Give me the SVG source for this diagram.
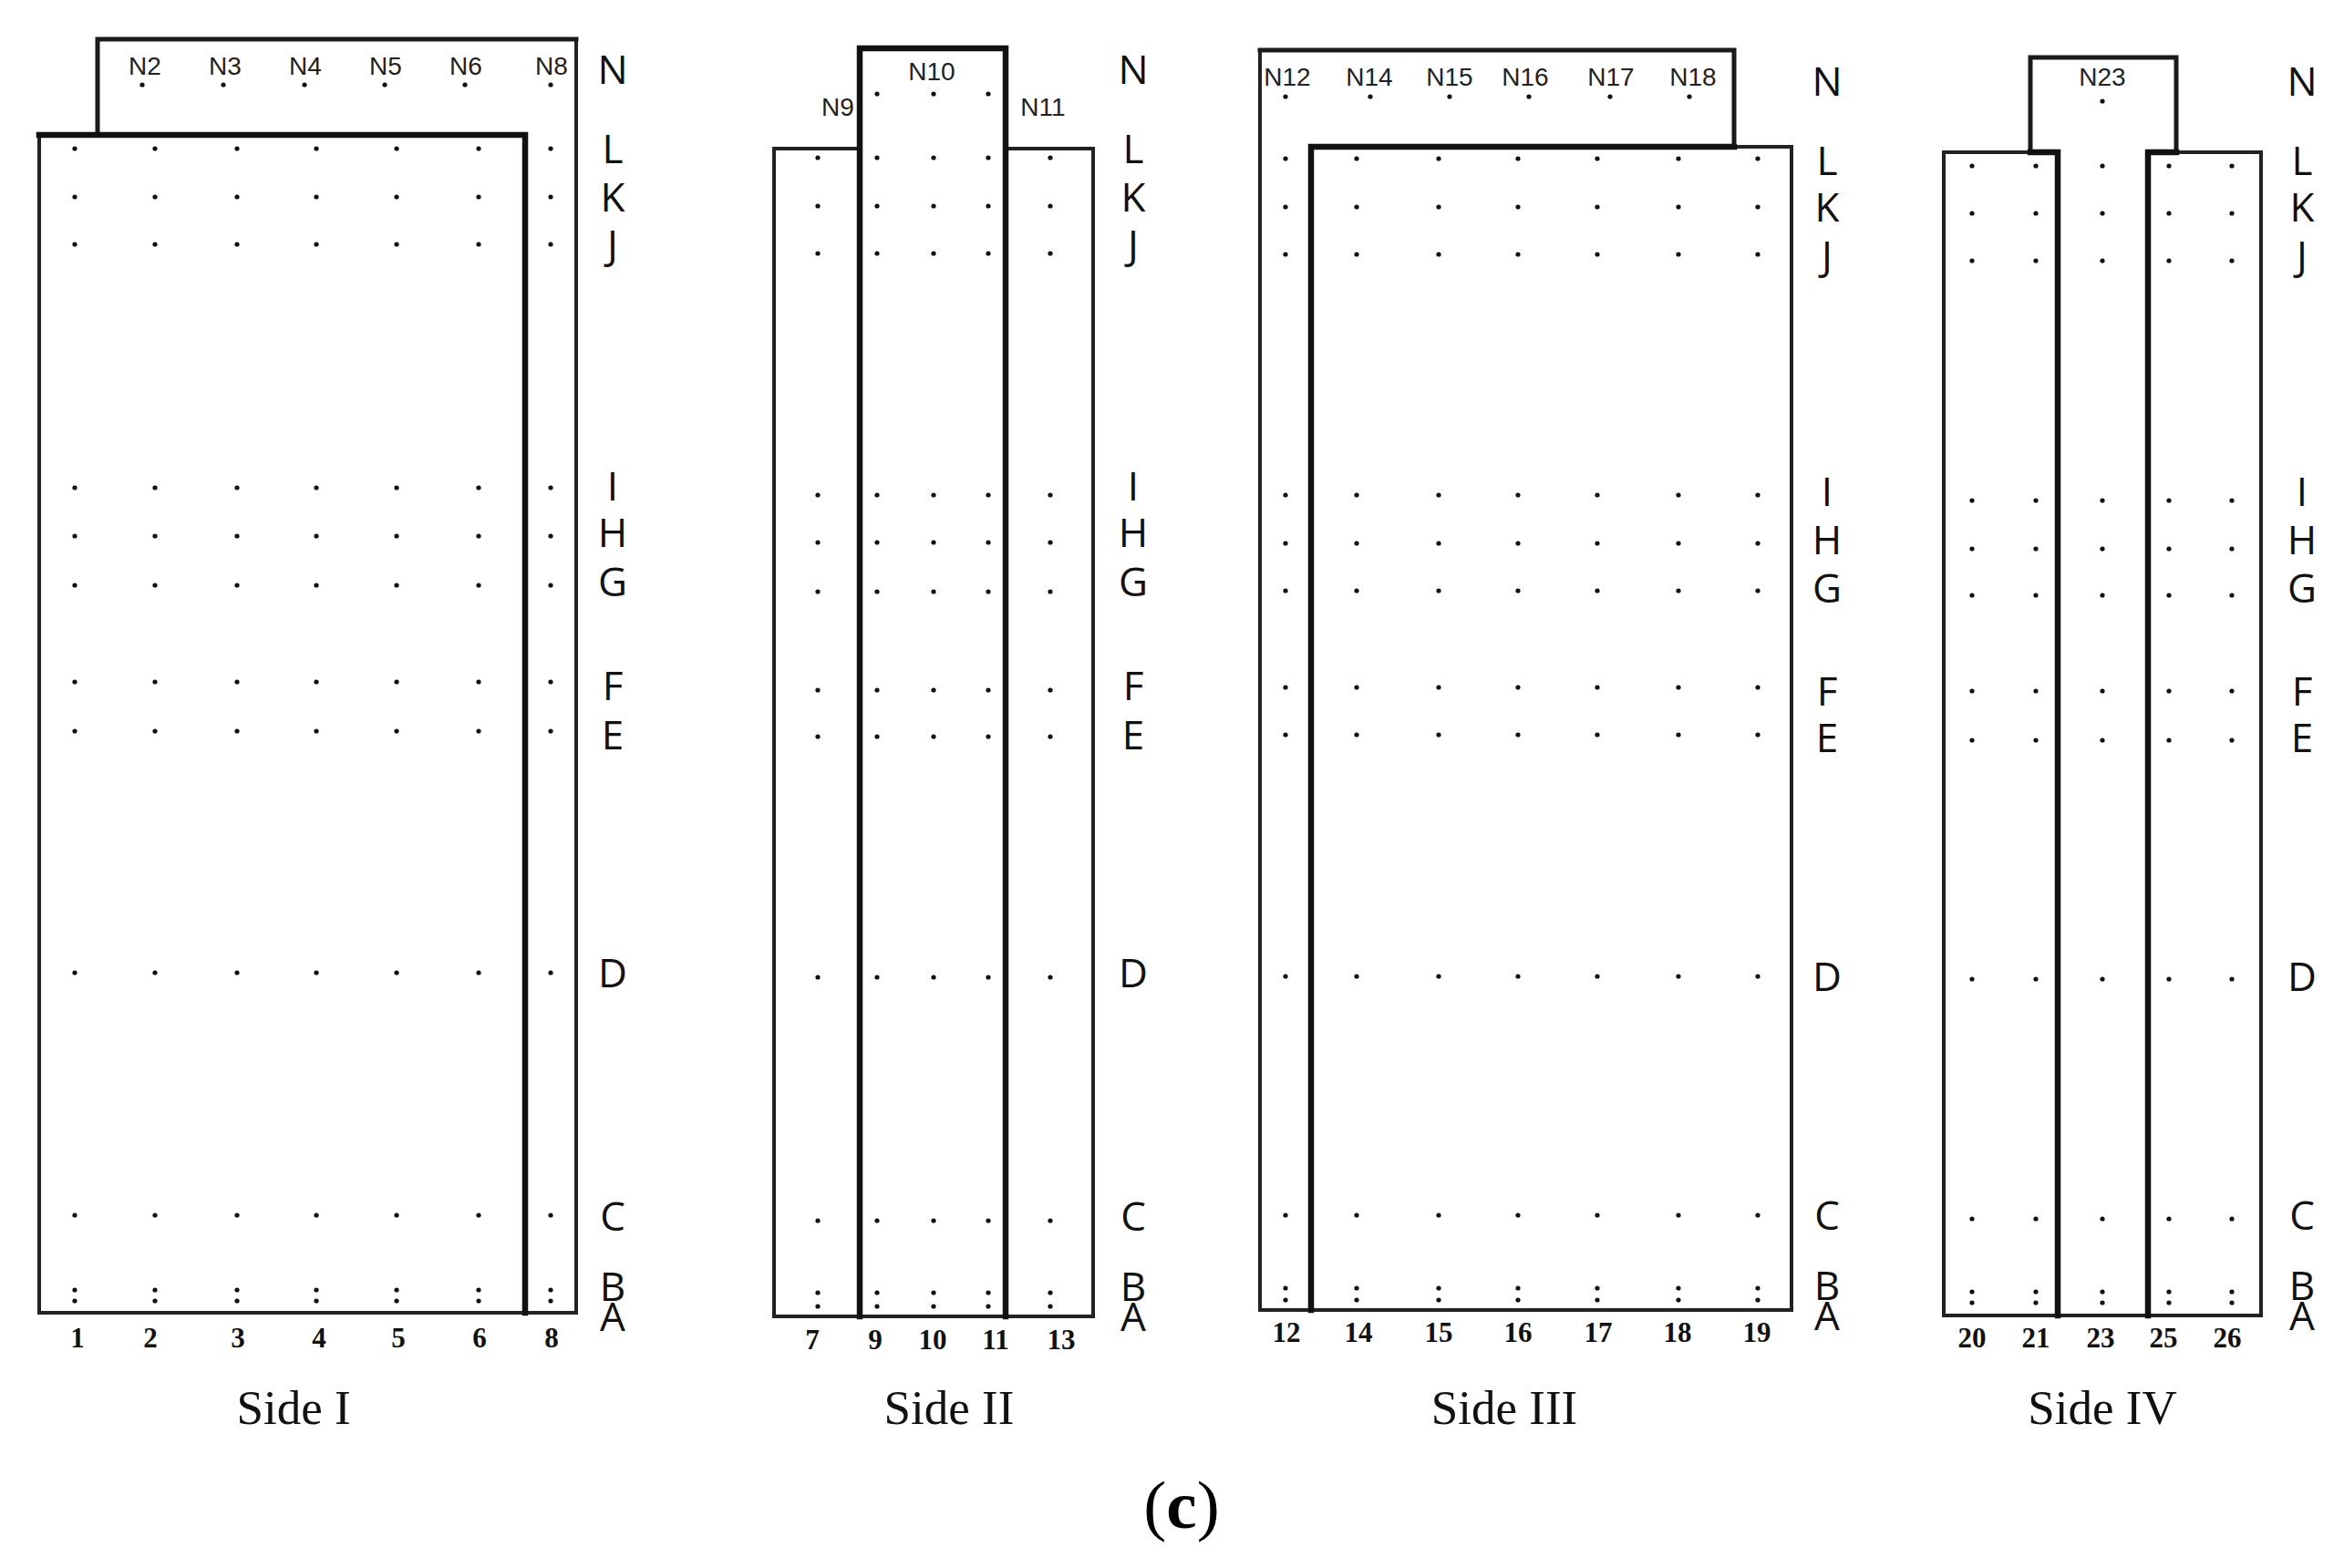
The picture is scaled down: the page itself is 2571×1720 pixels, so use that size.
<svg xmlns="http://www.w3.org/2000/svg" xmlns:xlink="http://www.w3.org/1999/xlink" width="2571" height="1720" viewBox="0 0 2571 1720">
<style>
.thin{fill:none;stroke:#222;stroke-width:4;stroke-linejoin:miter;stroke-linecap:square}
.mid{fill:none;stroke:#1a1a1a;stroke-width:5;stroke-linejoin:miter;stroke-linecap:square}
.thick{fill:none;stroke:#111;stroke-width:6.5;stroke-linejoin:miter;stroke-linecap:square}
.dot{fill:#111}
.nl{font-family:"Liberation Sans",Arial,sans-serif;font-size:28px;fill:#222;text-anchor:middle}
.rl{font-family:"Open Sans","Liberation Sans",sans-serif;font-size:44px;fill:#111;text-anchor:middle}
.num{font-family:"Liberation Serif","Times New Roman",serif;font-size:31px;font-weight:bold;fill:#111;text-anchor:middle}
.side{font-family:"Liberation Serif","Times New Roman",serif;font-size:53px;fill:#111;text-anchor:middle}
.cap{font-family:"Liberation Serif","Times New Roman",serif;font-size:75px;fill:#000;text-anchor:middle}
</style>
<defs>
<g id="col1"><circle class="dot" cx="0" cy="163" r="2.6"/><circle class="dot" cx="0" cy="216" r="2.6"/><circle class="dot" cx="0" cy="268" r="2.6"/><circle class="dot" cx="0" cy="535" r="2.6"/><circle class="dot" cx="0" cy="588" r="2.6"/><circle class="dot" cx="0" cy="642" r="2.6"/><circle class="dot" cx="0" cy="748" r="2.6"/><circle class="dot" cx="0" cy="802" r="2.6"/><circle class="dot" cx="0" cy="1067" r="2.6"/><circle class="dot" cx="0" cy="1333" r="2.6"/><circle class="dot" cx="0" cy="1415" r="2.6"/><circle class="dot" cx="0" cy="1427" r="2.6"/></g>
<g id="col2"><circle class="dot" cx="0" cy="173" r="2.6"/><circle class="dot" cx="0" cy="226" r="2.6"/><circle class="dot" cx="0" cy="278" r="2.6"/><circle class="dot" cx="0" cy="543" r="2.6"/><circle class="dot" cx="0" cy="595" r="2.6"/><circle class="dot" cx="0" cy="649" r="2.6"/><circle class="dot" cx="0" cy="757" r="2.6"/><circle class="dot" cx="0" cy="808" r="2.6"/><circle class="dot" cx="0" cy="1072" r="2.6"/><circle class="dot" cx="0" cy="1339" r="2.6"/><circle class="dot" cx="0" cy="1418" r="2.6"/><circle class="dot" cx="0" cy="1433" r="2.6"/></g>
<g id="col3"><circle class="dot" cx="0" cy="174" r="2.6"/><circle class="dot" cx="0" cy="227" r="2.6"/><circle class="dot" cx="0" cy="279" r="2.6"/><circle class="dot" cx="0" cy="543" r="2.6"/><circle class="dot" cx="0" cy="596" r="2.6"/><circle class="dot" cx="0" cy="648" r="2.6"/><circle class="dot" cx="0" cy="754" r="2.6"/><circle class="dot" cx="0" cy="806" r="2.6"/><circle class="dot" cx="0" cy="1071" r="2.6"/><circle class="dot" cx="0" cy="1333" r="2.6"/><circle class="dot" cx="0" cy="1413" r="2.6"/><circle class="dot" cx="0" cy="1426" r="2.6"/></g>
<g id="col4"><circle class="dot" cx="0" cy="182" r="2.6"/><circle class="dot" cx="0" cy="234" r="2.6"/><circle class="dot" cx="0" cy="286" r="2.6"/><circle class="dot" cx="0" cy="549" r="2.6"/><circle class="dot" cx="0" cy="602" r="2.6"/><circle class="dot" cx="0" cy="653" r="2.6"/><circle class="dot" cx="0" cy="758" r="2.6"/><circle class="dot" cx="0" cy="812" r="2.6"/><circle class="dot" cx="0" cy="1074" r="2.6"/><circle class="dot" cx="0" cy="1337" r="2.6"/><circle class="dot" cx="0" cy="1417" r="2.6"/><circle class="dot" cx="0" cy="1429" r="2.6"/></g>
</defs>
<rect width="2571" height="1720" fill="#fff"/>

<g id="side-I">
<g id="side-I-outline">
<path class="thin" d="M43,148 V1440 H632 V43"/>
<path class="mid" d="M107,148 V43 H632"/>
<path class="thick" d="M43,148 H576 V1440"/>
</g>
<g id="side-I-dots">
<use href="#col1" x="82"/><use href="#col1" x="170"/><use href="#col1" x="260"/><use href="#col1" x="347"/><use href="#col1" x="435"/><use href="#col1" x="525"/><use href="#col1" x="604"/>
<circle class="dot" cx="156" cy="93" r="2.6"/><circle class="dot" cx="245" cy="93" r="2.6"/><circle class="dot" cx="334" cy="93" r="2.6"/><circle class="dot" cx="422" cy="93" r="2.6"/><circle class="dot" cx="510" cy="93" r="2.6"/><circle class="dot" cx="604" cy="93" r="2.6"/>
</g>
<g id="side-I-labels">
<text class="nl" x="159" y="82">N2</text><text class="nl" x="247" y="82">N3</text><text class="nl" x="335" y="82">N4</text><text class="nl" x="423" y="82">N5</text><text class="nl" x="511" y="82">N6</text><text class="nl" x="605" y="82">N8</text>
<text class="num" x="85" y="1478">1</text><text class="num" x="165" y="1478">2</text><text class="num" x="261" y="1478">3</text><text class="num" x="350" y="1478">4</text><text class="num" x="437" y="1478">5</text><text class="num" x="526" y="1478">6</text><text class="num" x="605" y="1478">8</text>
<text class="side" x="322" y="1562">Side I</text>
</g>
<g id="side-I-rows">
<text class="rl" x="672" y="92">N</text><text class="rl" x="672" y="179">L</text><text class="rl" x="672" y="232">K</text><text class="rl" x="672" y="284">J</text><text class="rl" x="672" y="549">I</text><text class="rl" x="672" y="600">H</text><text class="rl" x="672" y="654">G</text><text class="rl" x="672" y="768">F</text><text class="rl" x="672" y="822">E</text><text class="rl" x="672" y="1083">D</text><text class="rl" x="672" y="1350">C</text><text class="rl" x="672" y="1427">B</text><text class="rl" x="672" y="1460">A</text>
</g>
</g>

<g id="side-II">
<g id="side-II-outline">
<path class="thin" d="M943,163 H849 V1444 H1199 V163 H1103"/>
<path class="thick" d="M943,1444 V53 H1103 V1444"/>
</g>
<g id="side-II-dots">
<use href="#col2" x="897"/><use href="#col2" x="962"/><use href="#col2" x="1024"/><use href="#col2" x="1084"/><use href="#col2" x="1152"/>
<circle class="dot" cx="962" cy="103" r="2.6"/><circle class="dot" cx="1024" cy="103" r="2.6"/><circle class="dot" cx="1084" cy="103" r="2.6"/>
</g>
<g id="side-II-labels">
<text class="nl" x="919" y="127">N9</text><text class="nl" x="1022" y="88">N10</text><text class="nl" x="1144" y="127">N11</text>
<text class="num" x="891" y="1480">7</text><text class="num" x="960" y="1480">9</text><text class="num" x="1023" y="1480">10</text><text class="num" x="1092" y="1480">11</text><text class="num" x="1164" y="1480">13</text>
<text class="side" x="1041" y="1562">Side II</text>
</g>
<g id="side-II-rows">
<text class="rl" x="1243" y="92">N</text><text class="rl" x="1243" y="179">L</text><text class="rl" x="1243" y="232">K</text><text class="rl" x="1243" y="284">J</text><text class="rl" x="1243" y="549">I</text><text class="rl" x="1243" y="600">H</text><text class="rl" x="1243" y="654">G</text><text class="rl" x="1243" y="768">F</text><text class="rl" x="1243" y="822">E</text><text class="rl" x="1243" y="1083">D</text><text class="rl" x="1243" y="1350">C</text><text class="rl" x="1243" y="1427">B</text><text class="rl" x="1243" y="1460">A</text>
</g>
</g>

<g id="side-III">
<g id="side-III-outline">
<path class="thin" d="M1902,161 H1965 V1437 H1382 V55"/>
<path class="mid" d="M1382,55 H1902 V161"/>
<path class="thick" d="M1438,1437 V161 H1902"/>
</g>
<g id="side-III-dots">
<use href="#col3" x="1410"/><use href="#col3" x="1488"/><use href="#col3" x="1578"/><use href="#col3" x="1665"/><use href="#col3" x="1752"/><use href="#col3" x="1841"/><use href="#col3" x="1928"/>
<circle class="dot" cx="1410" cy="106" r="2.6"/><circle class="dot" cx="1503" cy="106" r="2.6"/><circle class="dot" cx="1590" cy="106" r="2.6"/><circle class="dot" cx="1677" cy="106" r="2.6"/><circle class="dot" cx="1766" cy="106" r="2.6"/><circle class="dot" cx="1853" cy="106" r="2.6"/>
</g>
<g id="side-III-labels">
<text class="nl" x="1412" y="94">N12</text><text class="nl" x="1502" y="94">N14</text><text class="nl" x="1590" y="94">N15</text><text class="nl" x="1673" y="94">N16</text><text class="nl" x="1767" y="94">N17</text><text class="nl" x="1857" y="94">N18</text>
<text class="num" x="1411" y="1472">12</text><text class="num" x="1490" y="1472">14</text><text class="num" x="1578" y="1472">15</text><text class="num" x="1665" y="1472">16</text><text class="num" x="1753" y="1472">17</text><text class="num" x="1840" y="1472">18</text><text class="num" x="1927" y="1472">19</text>
<text class="side" x="1650" y="1562">Side III</text>
</g>
<g id="side-III-rows">
<text class="rl" x="2004" y="105">N</text><text class="rl" x="2004" y="192">L</text><text class="rl" x="2004" y="243">K</text><text class="rl" x="2004" y="296">J</text><text class="rl" x="2004" y="555">I</text><text class="rl" x="2004" y="608">H</text><text class="rl" x="2004" y="661">G</text><text class="rl" x="2004" y="774">F</text><text class="rl" x="2004" y="825">E</text><text class="rl" x="2004" y="1087">D</text><text class="rl" x="2004" y="1349">C</text><text class="rl" x="2004" y="1426">B</text><text class="rl" x="2004" y="1459">A</text>
</g>
</g>

<g id="side-IV">
<g id="side-IV-outline">
<path class="thin" d="M2257,167 H2132 V1443 H2480 V167 H2356"/>
<path class="mid" d="M2227,167 V63 H2387 V167"/>
<path class="thick" d="M2227,167 H2257 V1443 M2387,167 H2356 V1443"/>
</g>
<g id="side-IV-dots">
<use href="#col4" x="2163"/><use href="#col4" x="2233"/><use href="#col4" x="2306"/><use href="#col4" x="2379"/><use href="#col4" x="2448"/>
<circle class="dot" cx="2306" cy="111" r="2.6"/>
</g>
<g id="side-IV-labels">
<text class="nl" x="2306" y="94">N23</text>
<text class="num" x="2163" y="1478">20</text><text class="num" x="2233" y="1478">21</text><text class="num" x="2304" y="1478">23</text><text class="num" x="2373" y="1478">25</text><text class="num" x="2443" y="1478">26</text>
<text class="side" x="2306" y="1562">Side IV</text>
</g>
<g id="side-IV-rows">
<text class="rl" x="2525" y="105">N</text><text class="rl" x="2525" y="192">L</text><text class="rl" x="2525" y="243">K</text><text class="rl" x="2525" y="296">J</text><text class="rl" x="2525" y="555">I</text><text class="rl" x="2525" y="608">H</text><text class="rl" x="2525" y="661">G</text><text class="rl" x="2525" y="774">F</text><text class="rl" x="2525" y="825">E</text><text class="rl" x="2525" y="1087">D</text><text class="rl" x="2525" y="1349">C</text><text class="rl" x="2525" y="1426">B</text><text class="rl" x="2525" y="1459">A</text>
</g>
</g>

<g id="connectors"></g>

<text id="caption" class="cap" x="1296" y="1676">(<tspan font-weight="bold">c</tspan>)</text>
</svg>
